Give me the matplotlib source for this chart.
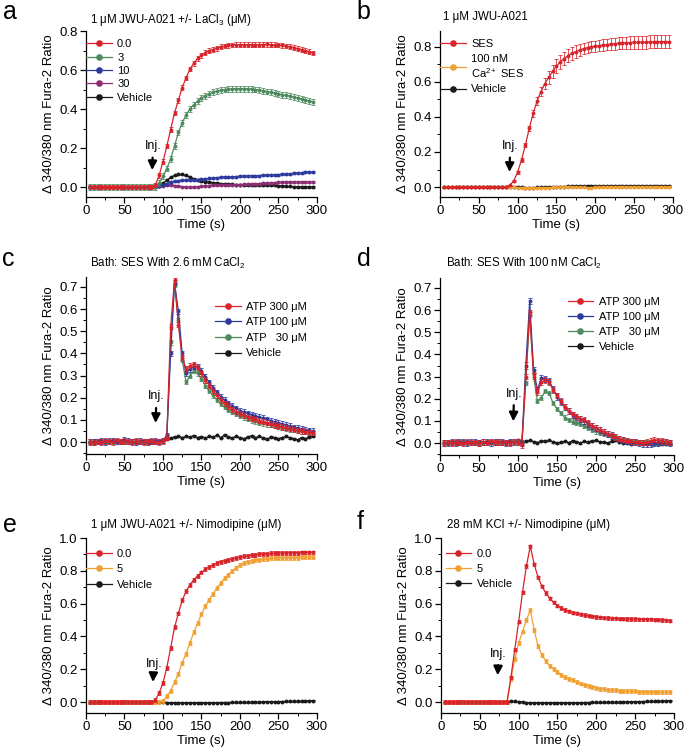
# Fura-2 ratio traces for six experiments (panels a-f)
# Each trace is the mean response sampled every 5 s, with SEM error bars.

import matplotlib
matplotlib.use("Agg")
import matplotlib.pyplot as plt
from matplotlib.ticker import MultipleLocator, FormatStrFormatter

plt.rcParams['font.family'] = ['Liberation Sans', 'DejaVu Sans']
plt.rcParams['mathtext.fontset'] = 'custom'
plt.rcParams['mathtext.rm'] = 'Liberation Sans'
plt.rcParams['mathtext.it'] = 'Liberation Sans:italic'
plt.rcParams['mathtext.bf'] = 'Liberation Sans:bold'

# Sampling times (s)
TIME = [5, 10, 15, 20, 25, 30, 35, 40, 45, 50,
        55, 60, 65, 70, 75, 80, 85, 90, 95, 100,
        105, 110, 115, 120, 125, 130, 135, 140, 145, 150,
        155, 160, 165, 170, 175, 180, 185, 190, 195, 200,
        205, 210, 215, 220, 225, 230, 235, 240, 245, 250,
        255, 260, 265, 270, 275, 280, 285, 290, 295]

# Panel a: 1 uM JWU-A021 +/- LaCl3
A_LA0 = [0, 0, 0, 0, 0, 0, 0, 0, 0, 0,
         0, 0, 0, 0, 0, 0, 0, 0.01, 0.06, 0.13,
         0.21, 0.295, 0.38, 0.445, 0.51, 0.56, 0.605, 0.635, 0.66, 0.675,
         0.69, 0.70, 0.705, 0.712, 0.72, 0.724, 0.726, 0.728, 0.73, 0.73,
         0.73, 0.73, 0.73, 0.73, 0.731, 0.731, 0.732, 0.73, 0.73, 0.728,
         0.726, 0.723, 0.72, 0.715, 0.71, 0.705, 0.70, 0.694, 0.688]
A_LA3 = [0, 0, 0, 0, 0, 0, 0, 0, 0, 0,
         0, 0, 0, 0, 0, 0, 0, 0.0, 0.02, 0.055,
         0.095, 0.145, 0.21, 0.28, 0.33, 0.37, 0.40, 0.423, 0.44, 0.455,
         0.468, 0.478, 0.486, 0.492, 0.497, 0.5, 0.502, 0.504, 0.505, 0.505,
         0.505, 0.504, 0.503, 0.5, 0.497, 0.494, 0.49, 0.486, 0.482, 0.478,
         0.474, 0.47, 0.466, 0.462, 0.457, 0.452, 0.447, 0.442, 0.437]
A_LA10 = [0, 0, 0, 0, 0, 0, 0, 0, 0, 0,
          0, 0, 0, 0, 0, 0, 0, 0.0, 0.003, 0.01,
          0.018, 0.025, 0.03, 0.033, 0.035, 0.035, 0.035, 0.036, 0.038, 0.04,
          0.042, 0.044, 0.046, 0.048, 0.05, 0.051, 0.052, 0.053, 0.054, 0.055,
          0.056, 0.057, 0.058, 0.058, 0.059, 0.06, 0.061, 0.062, 0.063, 0.064,
          0.065, 0.066, 0.068, 0.07, 0.072, 0.074, 0.075, 0.076, 0.077]
A_LA30 = [0, 0, 0, 0, 0, 0, 0, 0, 0, 0,
          0, 0, 0, 0, 0, 0, 0, 0.0, 0.003, 0.008,
          0.01, 0.01, 0.008, 0.005, 0.002, 0.0, -0.002, 0.0, 0.002, 0.004,
          0.006, 0.008, 0.009, 0.01, 0.01, 0.011, 0.012, 0.012, 0.013, 0.013,
          0.014, 0.015, 0.016, 0.017, 0.018, 0.02, 0.021, 0.022, 0.023, 0.024,
          0.025, 0.026, 0.026, 0.026, 0.026, 0.026, 0.026, 0.026, 0.026]
A_VEH = [0, 0, 0, 0, 0, 0, 0, 0, 0, 0,
         0, 0, 0, 0, 0, 0, 0, 0.0, 0.005, 0.02,
         0.035, 0.05, 0.06, 0.065, 0.065, 0.06, 0.05, 0.043, 0.037, 0.032,
         0.028, 0.025, 0.022, 0.02, 0.018, 0.016, 0.015, 0.014, 0.013, 0.013,
         0.012, 0.012, 0.012, 0.012, 0.012, 0.012, 0.012, 0.011, 0.01, 0.008,
         0.006, 0.004, 0.003, 0.002, 0.0, 0.0, 0.0, 0.0, 0.0]

# Panel b: 1 uM JWU-A021 in normal / low Ca2+ saline
B_SES = [0, 0, 0, 0, 0, 0, 0, 0, 0, 0,
         0, 0, 0, 0, 0, 0, 0, 0.01, 0.035, 0.085,
         0.155, 0.24, 0.335, 0.42, 0.49, 0.545, 0.59, 0.625, 0.66, 0.69,
         0.713, 0.733, 0.75, 0.763, 0.773, 0.782, 0.79, 0.796, 0.80, 0.804,
         0.807, 0.81, 0.813, 0.815, 0.818, 0.82, 0.822, 0.823, 0.824, 0.825,
         0.825, 0.826, 0.827, 0.828, 0.83, 0.83, 0.83, 0.83, 0.83]
B_SES_ERR = [0.003, 0.003, 0.003, 0.003, 0.003, 0.003, 0.003, 0.003, 0.003, 0.003,
             0.003, 0.003, 0.003, 0.003, 0.003, 0.003, 0.003, 0.004, 0.006, 0.008,
             0.01, 0.012, 0.016, 0.02, 0.024, 0.028, 0.032, 0.035, 0.037, 0.038,
             0.038, 0.038, 0.037, 0.036, 0.035, 0.034, 0.033, 0.032, 0.032, 0.032,
             0.032, 0.033, 0.033, 0.034, 0.034, 0.035, 0.035, 0.035, 0.036, 0.036,
             0.036, 0.036, 0.037, 0.037, 0.037, 0.037, 0.037, 0.037, 0.037]
B_LOWCA = [0, 0, 0, 0, 0, 0, 0, 0, 0, 0,
           0, 0, 0, 0, 0, 0, 0, 0.0, -0.002, -0.004,
           -0.005, -0.005, -0.005, -0.005, -0.004, -0.004, -0.003, -0.003, -0.002, -0.002,
           -0.001, 0.0, 0.0, 0.0, -0.001, -0.002, -0.002, -0.003, -0.003, -0.002,
           -0.002, -0.001, 0.0, 0.0, 0.0, 0.001, 0.001, 0.001, 0.0, 0.0,
           0.0, 0.0, 0.0, 0.001, 0.001, 0.0, 0.0, 0.0, 0.0]
B_VEH = [0.002, 0.002, 0.002, 0.002, 0.003, 0.003, 0.003, 0.003, 0.003, 0.003,
         0.003, 0.003, 0.003, 0.003, 0.003, 0.003, 0.003, 0.003, 0.002, 0.0,
         -0.002, -0.003, -0.003, -0.003, -0.002, -0.002, 0.0, 0.0, 0.002, 0.002,
         0.003, 0.003, 0.004, 0.005, 0.006, 0.006, 0.007, 0.008, 0.007, 0.006,
         0.006, 0.006, 0.007, 0.008, 0.008, 0.007, 0.006, 0.006, 0.007, 0.008,
         0.008, 0.007, 0.006, 0.006, 0.007, 0.008, 0.008, 0.008, 0.007]

# Panel c: ATP in SES with 2.6 mM CaCl2
C_ATP300 = [0.0, -0.003, 0.002, 0.0, 0.005, 0.003, 0.0, 0.008, 0.002, 0.005,
            0.003, 0.0, 0.005, 0.002, 0.0, 0.003, 0.005, 0.002, 0.0, 0.005,
            0.02, 0.52, 0.73, 0.53, 0.38, 0.33, 0.345, 0.35, 0.335, 0.31,
            0.28, 0.255, 0.23, 0.21, 0.19, 0.175, 0.162, 0.148, 0.137, 0.128,
            0.12, 0.112, 0.107, 0.102, 0.097, 0.092, 0.087, 0.082, 0.077, 0.072,
            0.068, 0.064, 0.06, 0.056, 0.053, 0.05, 0.047, 0.044, 0.042]
C_ATP100 = [0.002, 0.0, 0.003, 0.005, 0.0, 0.004, 0.008, 0.003, 0.002, 0.01,
            0.005, 0.002, 0.0, 0.004, 0.003, 0.0, 0.002, 0.005, 0.003, 0.008,
            0.03, 0.40, 0.72, 0.59, 0.40, 0.31, 0.33, 0.34, 0.34, 0.32,
            0.295, 0.27, 0.245, 0.225, 0.205, 0.19, 0.175, 0.163, 0.152, 0.142,
            0.135, 0.13, 0.124, 0.118, 0.113, 0.108, 0.103, 0.097, 0.091, 0.086,
            0.081, 0.077, 0.072, 0.067, 0.063, 0.059, 0.056, 0.052, 0.05]
C_ATP30 = [0.0, 0.003, 0.0, 0.002, 0.005, 0.0, 0.003, 0.005, 0.0, 0.002,
           0.0, 0.004, 0.002, 0.0, 0.003, 0.0, 0.002, 0.004, 0.0, 0.006,
           0.025, 0.45, 0.71, 0.55, 0.37, 0.27, 0.30, 0.32, 0.31, 0.285,
           0.255, 0.23, 0.21, 0.19, 0.172, 0.158, 0.145, 0.135, 0.126, 0.118,
           0.111, 0.104, 0.098, 0.093, 0.088, 0.084, 0.08, 0.076, 0.072, 0.068,
           0.064, 0.06, 0.057, 0.054, 0.051, 0.048, 0.045, 0.042, 0.04]
C_VEH = [0.0, 0.002, -0.002, 0.003, 0.0, 0.005, 0.002, 0.0, 0.004, 0.0,
         0.003, -0.002, 0.002, 0.0, 0.004, 0.0, 0.002, 0.0, 0.003, 0.006,
         0.012, 0.018, 0.022, 0.025, 0.02, 0.025, 0.022, 0.028, 0.02, 0.024,
         0.018, 0.025, 0.022, 0.03, 0.02, 0.032, 0.022, 0.018, 0.025, 0.02,
         0.015, 0.022, 0.028, 0.02, 0.025, 0.018, 0.012, 0.022, 0.02, 0.015,
         0.02, 0.025, 0.018, 0.015, 0.01, 0.02, 0.015, 0.022, 0.025]

# Panel d: ATP in SES with 100 nM CaCl2
D_ATP300 = [0.0, 0.003, 0.0, 0.005, 0.002, 0.0, 0.006, 0.002, 0.004, 0.0,
            0.005, 0.002, 0.008, 0.003, 0.005, 0.002, 0.004, 0.0, 0.006, 0.005,
            -0.01, 0.30, 0.59, 0.31, 0.23, 0.275, 0.285, 0.275, 0.24, 0.215,
            0.19, 0.165, 0.145, 0.13, 0.12, 0.11, 0.105, 0.09, 0.078, 0.068,
            0.06, 0.051, 0.043, 0.035, 0.027, 0.02, 0.015, 0.011, 0.008, 0.005,
            0.003, 0.002, 0.005, 0.01, 0.015, 0.013, 0.01, 0.006, 0.004]
D_ATP100 = [0.002, 0.0, 0.004, 0.002, 0.006, 0.003, 0.0, 0.005, 0.003, 0.002,
            0.004, 0.006, 0.002, 0.005, 0.003, 0.006, 0.002, 0.005, 0.003, 0.004,
            0.0, 0.35, 0.64, 0.33, 0.24, 0.295, 0.29, 0.28, 0.245, 0.21,
            0.185, 0.162, 0.143, 0.128, 0.118, 0.108, 0.098, 0.087, 0.077, 0.068,
            0.059, 0.05, 0.042, 0.034, 0.026, 0.02, 0.014, 0.01, 0.006, 0.003,
            0.0, -0.002, -0.004, -0.003, 0.0, 0.002, 0.003, 0.003, 0.002]
D_ATP30 = [0.0, 0.002, 0.005, 0.0, 0.003, 0.006, 0.002, 0.0, 0.004, 0.002,
           0.0, 0.003, 0.005, 0.0, 0.002, 0.004, 0.0, 0.003, 0.005, 0.002,
           0.0, 0.27, 0.58, 0.30, 0.19, 0.205, 0.235, 0.225, 0.18, 0.155,
           0.135, 0.115, 0.105, 0.097, 0.09, 0.085, 0.078, 0.068, 0.06, 0.053,
           0.047, 0.042, 0.037, 0.03, 0.025, 0.02, 0.015, 0.012, 0.01, 0.008,
           0.005, 0.004, 0.003, 0.003, 0.002, 0.003, 0.003, 0.002, 0.003]
D_VEH = [0.0, 0.004, 0.002, 0.006, 0.0, 0.003, 0.005, 0.002, 0.0, 0.004,
         0.002, 0.005, 0.0, 0.003, 0.006, 0.002, 0.004, 0.01, 0.005, 0.012,
         0.005, 0.008, 0.012, 0.006, 0.002, 0.01, 0.008, 0.012, 0.005, 0.0,
         0.004, 0.008, 0.002, 0.01, 0.006, 0.0, 0.008, 0.004, 0.01, 0.012,
         0.006, 0.004, 0.0, 0.008, 0.012, 0.006, 0.002, 0.0, -0.003, 0.002,
         0.0, -0.005, -0.004, -0.002, -0.003, -0.006, -0.004, -0.002, -0.005]

# Panel e: 1 uM JWU-A021 +/- nimodipine
E_NIM0 = [0, 0, 0, 0, 0, 0, 0, 0, 0, 0,
          0, 0, 0, 0, 0, 0, 0, 0.01, 0.055, 0.115,
          0.21, 0.33, 0.455, 0.54, 0.62, 0.675, 0.715, 0.745, 0.77, 0.79,
          0.81, 0.825, 0.835, 0.847, 0.855, 0.862, 0.868, 0.874, 0.879, 0.884,
          0.888, 0.892, 0.896, 0.899, 0.902, 0.904, 0.905, 0.906, 0.907, 0.908,
          0.909, 0.91, 0.91, 0.911, 0.911, 0.912, 0.912, 0.912, 0.912]
E_NIM5 = [0, 0, 0, 0, 0, 0, 0, 0, 0, 0,
          0, 0, 0, 0, 0, 0, 0, 0.0, 0.0, 0.005,
          0.035, 0.07, 0.12, 0.17, 0.24, 0.295, 0.36, 0.425, 0.48, 0.535,
          0.585, 0.625, 0.66, 0.695, 0.725, 0.756, 0.777, 0.80, 0.82, 0.836,
          0.848, 0.856, 0.862, 0.866, 0.869, 0.872, 0.874, 0.876, 0.877, 0.878,
          0.879, 0.88, 0.88, 0.881, 0.881, 0.882, 0.882, 0.882, 0.882]
E_VEH = [0, 0, 0, 0, 0, 0, 0, 0, 0, 0,
         0, 0, 0, 0, 0, 0, 0, 0.0, 0.0, 0.0,
         -0.003, -0.004, -0.004, -0.004, -0.004, -0.004, -0.004, -0.004, -0.004, -0.004,
         -0.004, -0.004, -0.004, -0.004, -0.003, -0.003, -0.003, -0.002, -0.002, -0.002,
         -0.001, -0.001, 0.0, 0.0, 0.0, 0.001, 0.001, 0.002, 0.002, 0.003,
         0.003, 0.004, 0.004, 0.005, 0.005, 0.006, 0.006, 0.007, 0.008]

# Panel f: 28 mM KCl +/- nimodipine
F_NIM0 = [0, 0, 0, 0, 0, 0, 0, 0, 0, 0,
          0, 0, 0, 0, 0, 0, 0, 0.15, 0.32, 0.49,
          0.67, 0.83, 0.95, 0.84, 0.76, 0.705, 0.665, 0.632, 0.607, 0.588,
          0.573, 0.562, 0.553, 0.546, 0.54, 0.535, 0.53, 0.526, 0.522, 0.519,
          0.516, 0.514, 0.512, 0.511, 0.51, 0.509, 0.508, 0.507, 0.506, 0.506,
          0.505, 0.505, 0.504, 0.504, 0.503, 0.502, 0.5, 0.499, 0.497]
F_NIM5 = [0, 0, 0, 0, 0, 0, 0, 0, 0, 0,
          0, 0, 0, 0, 0, 0, 0, 0.14, 0.26, 0.36,
          0.43, 0.5, 0.56, 0.44, 0.34, 0.285, 0.25, 0.22, 0.2, 0.183,
          0.165, 0.152, 0.14, 0.132, 0.122, 0.113, 0.105, 0.099, 0.093, 0.087,
          0.082, 0.078, 0.075, 0.073, 0.071, 0.069, 0.068, 0.067, 0.066, 0.065,
          0.064, 0.063, 0.062, 0.062, 0.061, 0.06, 0.06, 0.059, 0.059]
F_VEH = [0, 0, 0, 0, 0, 0, 0, 0, 0, 0,
         0, 0, 0, 0, 0, 0, 0, 0.005, 0.004, 0.002,
         0.0, -0.003, -0.004, -0.004, -0.004, -0.004, -0.004, -0.004, -0.004, -0.004,
         -0.004, -0.004, -0.004, -0.004, -0.004, -0.004, -0.003, -0.003, -0.002, -0.002,
         -0.001, -0.001, 0.0, 0.0, 0.0, 0.0, 0.0, 0.001, 0.002, 0.002,
         0.003, 0.003, 0.004, 0.004, 0.005, 0.006, 0.006, 0.007, 0.008]

# Colours
RED = '#d8232a'
GREEN = '#4f8a5e'
BLUE = '#2c3a9e'
PURPLE = '#8c2e72'
ORANGE = '#f0a033'
BLACK = '#1a1a1a'

# Panel definitions: (label, values, sem, colour)
panels = [
    dict(letter='a', title='1 μM JWU-A021 +/- LaCl$_3$ (μM)',
         rect=[0.1255, 0.7373, 0.3372, 0.2213], ylim=(-0.051, 0.8), ymaj=0.2,
         series=[('0.0', A_LA0, 0.012, RED), ('3', A_LA3, 0.015, GREEN),
                 ('10', A_LA10, 0.005, BLUE), ('30', A_LA30, 0.004, PURPLE),
                 ('Vehicle', A_VEH, 0.004, BLACK)],
         leg=(0.0, 0.95), legsp=0.3, inj=(86, 0.21, 0.087),
         letter_xy=(10, 12), title_xy=(90, 20)),
    dict(letter='b', title='1 μM JWU-A021',
         rect=[0.6423, 0.7373, 0.3401, 0.2213], ylim=(-0.057, 0.89), ymaj=0.2,
         series=[('SES', B_SES, B_SES_ERR, RED),
                 ('100 nM\nCa$^{2+}$ SES', B_LOWCA, 0.004, ORANGE),
                 ('Vehicle', B_VEH, 0.004, BLACK)],
         leg=(0.0, 0.95), legsp=0.4, inj=(89.5, 0.234, 0.086),
         letter_xy=(363, 12), title_xy=(443, 17)),
    dict(letter='c', title='Bath: SES With 2.6 mM CaCl$_2$',
         rect=[0.1255, 0.3947, 0.3372, 0.236], ylim=(-0.054, 0.745), ymaj=0.1,
         series=[('ATP 300 μM', C_ATP300, 0.012, RED),
                 ('ATP 100 μM', C_ATP100, 0.012, BLUE),
                 ('ATP   30 μM', C_ATP30, 0.01, GREEN),
                 ('Vehicle', C_VEH, 0.003, BLACK)],
         leg=(0.56, 0.86), legsp=0.5, inj=(90.5, 0.206, 0.086),
         letter_xy=(8, 259), title_xy=(90, 263)),
    dict(letter='d', title='Bath: SES With 100 nM CaCl$_2$',
         rect=[0.6423, 0.3933, 0.3416, 0.236], ylim=(-0.054, 0.745), ymaj=0.1,
         series=[('ATP 300 μM', D_ATP300, 0.012, RED),
                 ('ATP 100 μM', D_ATP100, 0.014, BLUE),
                 ('ATP   30 μM', D_ATP30, 0.01, GREEN),
                 ('Vehicle', D_VEH, 0.003, BLACK)],
         leg=(0.545, 0.895), legsp=0.45, inj=(94, 0.223, 0.098),
         letter_xy=(364, 259), title_xy=(446, 263)),
    dict(letter='e', title='1 μM JWU-A021 +/- Nimodipine (μM)',
         rect=[0.1255, 0.0493, 0.3372, 0.2333], ylim=(-0.067, 1.0), ymaj=0.2,
         series=[('0.0', E_NIM0, 0.012, RED), ('5', E_NIM5, 0.012, ORANGE),
                 ('Vehicle', E_VEH, 0.003, BLACK)],
         leg=(0.0, 0.94), legsp=0.5, inj=(87, 0.234, 0.122),
         letter_xy=(10, 525), title_xy=(91, 525)),
    dict(letter='f', title='28 mM KCl +/- Nimodipine (μM)',
         rect=[0.6438, 0.0493, 0.3401, 0.2333], ylim=(-0.067, 1.0), ymaj=0.2,
         series=[('0.0', F_NIM0, 0.01, RED), ('5', F_NIM5, 0.012, ORANGE),
                 ('Vehicle', F_VEH, 0.003, BLACK)],
         leg=(0.02, 0.94), legsp=0.45, inj=(73, 0.295, 0.163),
         letter_xy=(360, 522), title_xy=(447, 525)),
]

W, H = 685, 750
fig = plt.figure(figsize=(W / 100, H / 100), dpi=100)

for p in panels:
    ax = fig.add_axes(p['rect'])

    # Draw traces; first series ends up on top
    handles = []
    for z, (label, vals, err, color) in enumerate(p['series']):
        zorder = 10 - z
        ax.errorbar(TIME, vals, yerr=err, fmt='none', ecolor=color,
                    elinewidth=0.65, capsize=1.7, capthick=0.65, alpha=0.85,
                    zorder=zorder)
        line, = ax.plot(TIME, vals, '-o', color=color, lw=0.9, ms=2.8,
                        mew=0, label=label, zorder=zorder + 0.5)
        handles.append(line)

    ax.set_xlim(0, 300)
    ax.set_ylim(*p['ylim'])
    ax.xaxis.set_major_locator(MultipleLocator(50))
    ax.xaxis.set_minor_locator(MultipleLocator(25))
    ax.yaxis.set_major_locator(MultipleLocator(p['ymaj']))
    ax.yaxis.set_minor_locator(MultipleLocator(p['ymaj'] / 2))
    ax.yaxis.set_major_formatter(FormatStrFormatter('%.1f'))
    ax.spines[['top', 'right']].set_visible(False)
    for s in ('left', 'bottom'):
        ax.spines[s].set_linewidth(0.9)
    ax.tick_params(which='major', direction='out', length=4, width=0.9,
                   labelsize=9.5, pad=2)
    ax.tick_params(which='minor', direction='out', length=2, width=0.7)

    ax.set_xlabel('Time (s)', fontsize=9.5, labelpad=1)
    ax.set_ylabel('\u0394 340/380 nm Fura-2 Ratio', fontsize=9.5, labelpad=3)

    ax.legend(handles=handles, loc='upper left', bbox_to_anchor=p['leg'],
              frameon=False, fontsize=8, handlelength=2.3, handletextpad=0.5,
              labelspacing=p['legsp'], borderpad=0, borderaxespad=0,
              markerscale=1.7)

    # Injection arrow
    ix, itext, itip = p['inj']
    ax.annotate('Inj.', xy=(ix, itip), xytext=(ix + 1, itext), ha='center',
                va='center', fontsize=9,
                arrowprops=dict(arrowstyle='-|>', color='black', lw=1.6,
                                mutation_scale=13, shrinkA=2, shrinkB=0))

    # Panel letter and title
    lx, ly = p['letter_xy']
    fig.text(lx / W, 1 - ly / H, p['letter'], fontsize=18, ha='center',
             va='center')
    tx, ty = p['title_xy']
    fig.text(tx / W, 1 - ty / H, p['title'], fontsize=8.3, ha='left',
             va='center')

fig.savefig('out.png', dpi=100)
